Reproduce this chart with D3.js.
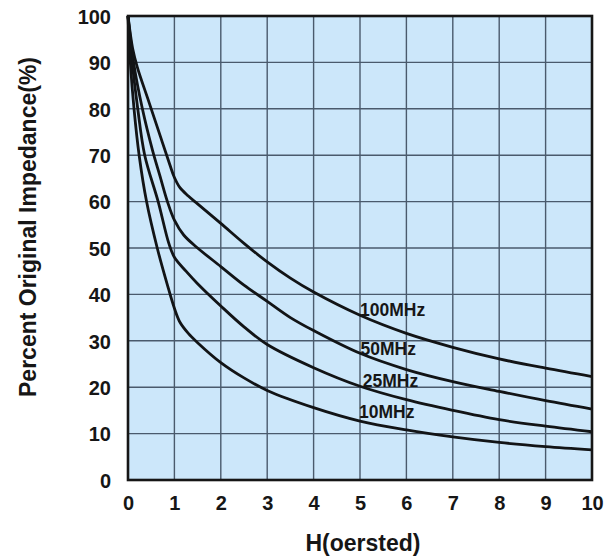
<!DOCTYPE html>
<html>
<head>
<meta charset="utf-8">
<script src="https://cdn.jsdelivr.net/npm/d3@7"></script>
<style>
  html, body { margin: 0; padding: 0; background: #ffffff; }
  svg { display: block; }
  text { font-family: "Liberation Sans", Arial, Helvetica, sans-serif; font-weight: bold; fill: #161616; }
</style>
</head>
<body>
<svg id="chart" width="615" height="556"></svg>
<script>
// ---- data ----
const xTicks = [0, 1, 2, 3, 4, 5, 6, 7, 8, 9, 10];
const yTicks = [0, 10, 20, 30, 40, 50, 60, 70, 80, 90, 100];
const seriesNames = ["100MHz", "50MHz", "25MHz", "10MHz"];

const h100 = [0, 0.1, 0.2, 0.45, 0.7, 0.9, 1, 1.12, 1.3, 1.5, 2, 2.5, 3, 3.5, 4, 5, 6, 7, 8, 9, 10];
const p100 = [100, 93, 89, 81.5, 74, 68, 65.2, 63, 61.2, 59.5, 55.3, 51, 47, 43.5, 40.5, 35.5, 31.6, 28.6, 26.1, 24.1, 22.3];

const h50 = [0, 0.12, 0.31, 0.53, 0.69, 0.85, 1, 1.2, 1.5, 2, 2.5, 3, 3.5, 4, 5, 6, 7, 8, 9, 10];
const p50 = [100, 90, 80, 71, 65.5, 60, 56, 52.8, 50, 46, 42, 38.5, 35, 32.2, 27.3, 23.8, 21.2, 19.1, 17.1, 15.3];

const h25 = [0, 0.09, 0.21, 0.36, 0.65, 0.88, 1, 1.25, 1.5, 2, 2.5, 3, 4, 5, 6, 7, 8, 9, 10];
const p25 = [100, 90, 80, 70, 60, 51, 48, 45, 42.3, 37.5, 33, 29.2, 24.2, 20.2, 17.3, 15, 13, 11.6, 10.4];

const h10 = [0, 0.05, 0.13, 0.24, 0.4, 0.63, 0.85, 1, 1.12, 1.3, 1.5, 2, 2.5, 3, 4, 5, 6, 7, 8, 9, 10];
const p10 = [100, 90, 80, 70, 60, 50, 42, 37, 34, 31.6, 29.6, 25.3, 22, 19.3, 15.6, 12.7, 10.8, 9.3, 8.1, 7.2, 6.5];

// label anchor points (data units) for the series names
const labelH = [5.0, 5.01, 5.06, 4.98];
const labelP = [36.6, 28.4, 21.3, 14.7];

// ---- chart ----
const svg = d3.select("#chart");
const pL = 128, pR = 592, pT = 16, pB = 480;

const x = d3.scaleLinear().domain([0, 10]).range([pL, pR]);
const y = d3.scaleLinear().domain([0, 100]).range([pB, pT]);

// plot background
svg.append("rect")
  .attr("x", pL).attr("y", pT)
  .attr("width", pR - pL).attr("height", pB - pT)
  .attr("fill", "#cce7fa");

// grid
const grid = svg.append("g").attr("stroke", "#4a5a6c").attr("stroke-width", 1.4);
grid.selectAll("line.v").data(xTicks.slice(1, -1)).join("line")
  .attr("x1", d => x(d)).attr("x2", d => x(d))
  .attr("y1", pT).attr("y2", pB);
grid.selectAll("line.h").data(yTicks.slice(1, -1)).join("line")
  .attr("y1", d => y(d)).attr("y2", d => y(d))
  .attr("x1", pL).attr("x2", pR);

// curves
const allH = [h100, h50, h25, h10];
const allP = [p100, p50, p25, p10];
const line = d3.line()
  .x(d => x(d[0])).y(d => y(d[1]))
  .curve(d3.curveCatmullRom.alpha(0.5));

seriesNames.forEach((name, i) => {
  const pts = allH[i].map((h, j) => [h, allP[i][j]]);
  svg.append("path")
    .datum(pts)
    .attr("d", line)
    .attr("fill", "none")
    .attr("stroke", "#121416")
    .attr("stroke-width", 2.8)
    .attr("stroke-linejoin", "round");
});

// series labels
seriesNames.forEach((name, i) => {
  svg.append("text")
    .attr("x", x(labelH[i]))
    .attr("y", y(labelP[i]))
    .attr("dy", "0.36em")
    .attr("font-size", 17.5)
    .text(name);
});

// frame
svg.append("rect")
  .attr("x", pL).attr("y", pT)
  .attr("width", pR - pL).attr("height", pB - pT)
  .attr("fill", "none")
  .attr("stroke", "#161616")
  .attr("stroke-width", 2.6);

// axes (d3 axes, styled)
const xAxis = svg.append("g")
  .attr("transform", `translate(0,${pB})`)
  .call(d3.axisBottom(x).tickValues(xTicks).tickSize(0).tickPadding(0).tickFormat(d3.format("d")));
xAxis.select(".domain").remove();
xAxis.selectAll("text")
  .attr("y", 30)
  .attr("dy", 0)
  .attr("font-size", 20)
  .attr("font-family", "Liberation Sans, Arial, sans-serif")
  .attr("font-weight", "bold")
  .attr("fill", "#161616");

const yAxis = svg.append("g")
  .attr("transform", `translate(${pL},0)`)
  .call(d3.axisLeft(y).tickValues(yTicks).tickSize(0).tickPadding(0).tickFormat(d3.format("d")));
yAxis.select(".domain").remove();
yAxis.selectAll("text")
  .attr("x", -17)
  .attr("dy", "0.36em")
  .attr("font-size", 20)
  .attr("font-family", "Liberation Sans, Arial, sans-serif")
  .attr("font-weight", "bold")
  .attr("fill", "#161616");

// axis titles
svg.append("text")
  .attr("x", 363).attr("y", 551)
  .attr("text-anchor", "middle")
  .attr("font-size", 23)
  .text("H(oersted)");

svg.append("text")
  .attr("transform", "translate(36,227) rotate(-90)")
  .attr("text-anchor", "middle")
  .attr("font-size", 23)
  .text("Percent Original Impedance(%)");
</script>
</body>
</html>
